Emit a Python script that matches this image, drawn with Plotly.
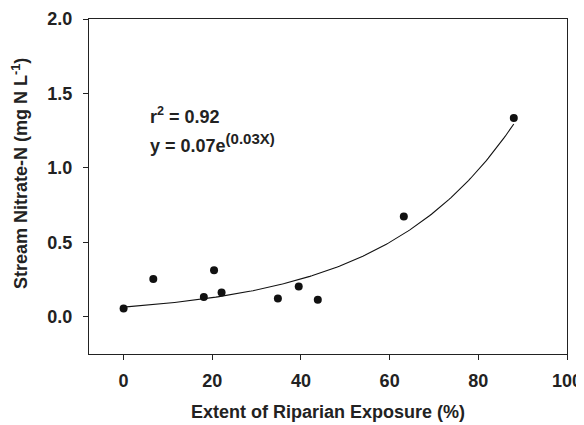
import numpy as np
import plotly.graph_objects as go

# Data
exposure = [0.0, 6.7, 18.1, 20.4, 22.1, 34.8, 39.5, 43.8, 63.2, 88.0]
nitrate = [0.055, 0.253, 0.132, 0.313, 0.163, 0.123, 0.203, 0.114, 0.673, 1.335]

# Exponential fit coefficients (y = a * exp(b x)) as drawn
FIT_A = 0.065
FIT_B = 0.034
fit_x = np.linspace(min(exposure), max(exposure), 200)
fit_y = FIT_A * np.exp(FIT_B * fit_x)

x_ticks = [0, 20, 40, 60, 80, 100]
y_ticks = [0.0, 0.5, 1.0, 1.5, 2.0]
y_ticklabels = ["0.0", "0.5", "1.0", "1.5", "2.0"]

FONT = "Liberation Sans, Arial, sans-serif"
TXT = "#222222"

def bfont(size=18):
    return dict(family=FONT, size=size, color=TXT, weight="bold")

fig = go.Figure()
fig.add_trace(go.Scatter(x=fit_x, y=fit_y, mode="lines",
                         line=dict(color="#111111", width=1.1),
                         hoverinfo="skip", showlegend=False))
fig.add_trace(go.Scatter(x=exposure, y=nitrate, mode="markers",
                         marker=dict(color="#111111", size=8),
                         showlegend=False))

fig.add_annotation(x=5.6, y=1.355, xref="x", yref="y", xanchor="left", yanchor="middle",
                   text="r<sup>2</sup> = 0.92", showarrow=False, font=bfont(18))
fig.add_annotation(x=5.6, y=1.17, xref="x", yref="y", xanchor="left", yanchor="middle",
                   text='y = 0.07e<sup><span style="font-size:15px">(0.03X)</span></sup>',
                   showarrow=False, font=bfont(18))

# axis titles as annotations to match their positions
fig.add_annotation(x=-0.1444, y=0.54, xref="paper", yref="paper",
                   xanchor="center", yanchor="middle",
                   text="Stream Nitrate-N (mg N L<sup>-1</sup>)",
                   textangle=-90, showarrow=False, font=bfont(18))
fig.add_annotation(x=0.5, y=-0.173, xref="paper", yref="paper",
                   xanchor="center", yanchor="middle",
                   text="Extent of Riparian Exposure (%)",
                   showarrow=False, font=bfont(18))

# page body has an 8px default margin, so the figure is sized to the visible area
fig.update_layout(
    width=576, height=417,
    margin=dict(l=81, r=17, t=11, b=71),
    paper_bgcolor="white", plot_bgcolor="white",
    font=bfont(18),
    showlegend=False,
)
fig.update_xaxes(range=[-7.8, 100], tickvals=x_ticks, ticks="outside", ticklen=5,
                 tickcolor=TXT, showline=True, linecolor=TXT, linewidth=1,
                 mirror=True, showgrid=False, zeroline=False, automargin=False,
                 tickfont=bfont(18), ticklabelstandoff=5)
fig.update_yaxes(range=[-0.25, 2.0], tickvals=y_ticks, ticktext=y_ticklabels,
                 ticks="outside", ticklen=5, tickcolor=TXT,
                 showline=True, linecolor=TXT, linewidth=1, mirror=True,
                 showgrid=False, zeroline=False, automargin=False,
                 tickfont=bfont(18), ticklabelstandoff=7)

fig.write_html("out.html")
